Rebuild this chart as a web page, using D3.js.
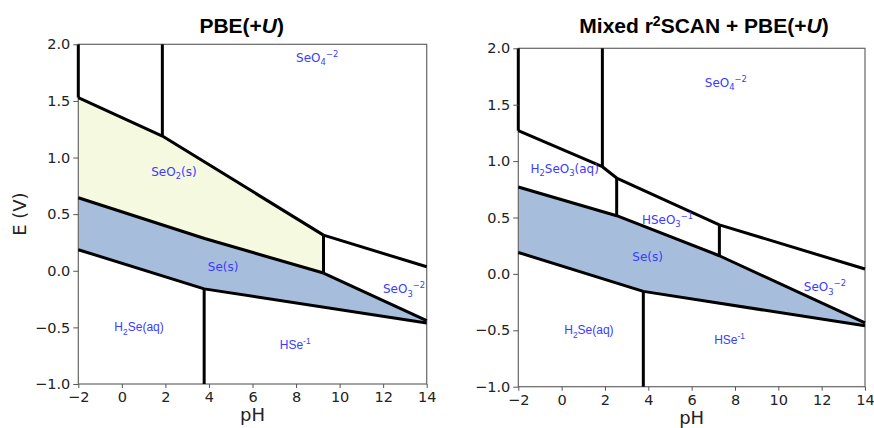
<!DOCTYPE html>
<html>
<head>
<meta charset="utf-8">
<script src="https://cdn.jsdelivr.net/npm/d3@7"></script>
<style>
body { margin: 0; background: #fff; }
svg text { font-family: "DejaVu Sans", sans-serif; }
.tick text { font-size: 14.5px; fill: #222; }
.tick line { stroke: #555; }
.frame { fill: none; stroke: #666; stroke-width: 1.2; }
.bound { fill: none; stroke: #000; stroke-width: 3; stroke-linejoin: round; }
.arial { font-family: "Liberation Sans", Arial, sans-serif !important; }
.title { font-family: "Liberation Sans", Arial, sans-serif !important; font-weight: bold; font-size: 21px; }
</style>
</head>
<body>
<svg width="874" height="428"></svg>
<script>
var phTicks = [-2, 0, 2, 4, 6, 8, 10, 12, 14];
var eTicks = [-1.0, -0.5, 0.0, 0.5, 1.0, 1.5, 2.0];

// PBE(+U) boundaries as [pH, E]
var pbeSeO2Top = [[-2, 1.53], [1.86, 1.19], [9.26, 0.315]];
var pbeSeO2Bottom = [[-2, 0.645], [3.8, 0.285], [9.26, -0.02]];
var pbeSeTopRight = [[9.26, -0.02], [14, -0.44]];
var pbeSeBottom = [[-2, 0.186], [3.78, -0.16], [14, -0.462]];
var pbeSeO3Top = [[9.26, 0.315], [14, 0.035]];
// verticals: [pH, Etop, Ebottom]
var pbeVerticals = [[-2, 2.0, 1.53], [1.86, 2.0, 1.19], [9.26, 0.315, -0.02], [3.78, -0.16, -1.0]];
var pbeLabels = [
    { parts: [['SeO', ''], ['4', 'sub'], ['\u22122', 'sup']], ph: 8.97, e: 1.883 },
    { parts: [['SeO', ''], ['2', 'sub'], ['(s)', '']], ph: 2.39, e: 0.875 },
    { parts: [['Se(s)', '']], ph: 4.65, e: 0.034 },
    { parts: [['SeO', ''], ['3', 'sub'], ['\u22122', 'sup']], ph: 12.96, e: -0.162 },
    { parts: [['H', ''], ['2', 'sub'], ['Se(aq)', '']], ph: 0.79, e: -0.496, arial: true },
    { parts: [['HSe', ''], ['-1', 'sup']], ph: 7.96, e: -0.655, arial: true }
];

// Mixed r2SCAN + PBE(+U) boundaries
var mixTop = [[-2, 1.27], [1.88, 0.95], [2.54, 0.85], [7.28, 0.435], [14, 0.043]];
var mixSeTop = [[-2, 0.77], [2.54, 0.516], [7.28, 0.161], [14, -0.435]];
var mixSeBottom = [[-2, 0.19], [3.77, -0.155], [14, -0.46]];
var mixVerticals = [[-2, 2.0, 1.27], [1.88, 2.0, 0.95], [2.54, 0.85, 0.516], [7.28, 0.435, 0.161], [3.77, -0.155, -1.0]];
var mixLabels = [
    { parts: [['SeO', ''], ['4', 'sub'], ['\u22122', 'sup']], ph: 7.58, e: 1.697 },
    { parts: [['H', ''], ['2', 'sub'], ['SeO', ''], ['3', 'sub'], ['(aq)', '']], ph: 0.14, e: 0.936 },
    { parts: [['HSeO', ''], ['3', 'sub'], ['\u22121', 'sup']], ph: 4.885, e: 0.482 },
    { parts: [['Se(s)', '']], ph: 3.97, e: 0.152 },
    { parts: [['SeO', ''], ['3', 'sub'], ['\u22122', 'sup']], ph: 12.15, e: -0.116 },
    { parts: [['H', ''], ['2', 'sub'], ['Se(aq)', '']], ph: 1.26, e: -0.497, arial: true },
    { parts: [['HSe', ''], ['-1', 'sup']], ph: 7.75, e: -0.586, arial: true }
];

var yellowFill = '#f5f9e0';
var seFill = '#a6bddb';
var labelBlue = '#3b3bff';

var svg = d3.select('svg');

var panels = [
    {
        left: 78.3, right: 426.7, top: 44.3, bottom: 384,
        title: 'pbe', titleX: 241.7, yLabel: true,
        fills: [
            { pts: pbeSeO2Top.concat(pbeSeO2Bottom.slice().reverse()), color: yellowFill },
            { pts: pbeSeO2Bottom.concat(pbeSeTopRight.slice(1), pbeSeBottom.slice().reverse()), color: seFill }
        ],
        lines: [pbeSeO2Top, pbeSeO2Bottom, pbeSeTopRight, pbeSeBottom, pbeSeO3Top],
        verticals: pbeVerticals,
        labels: pbeLabels
    },
    {
        left: 518.3, right: 865, top: 48.3, bottom: 386.7,
        title: 'mix', titleX: 704, yLabel: false,
        fills: [
            { pts: mixSeTop.concat(mixSeBottom.slice().reverse()), color: seFill }
        ],
        lines: [mixTop, mixSeTop, mixSeBottom],
        verticals: mixVerticals,
        labels: mixLabels
    }
];

panels.forEach(function(p) {
    var x = d3.scaleLinear().domain([-2, 14]).range([p.left, p.right]);
    var y = d3.scaleLinear().domain([-1, 2]).range([p.bottom, p.top]);
    var g = svg.append('g');

    var line = d3.line().x(function(d) { return x(d[0]); }).y(function(d) { return y(d[1]); });

    // region fills
    p.fills.forEach(function(f) {
        g.append('path').attr('d', line(f.pts) + 'Z').attr('fill', f.color);
    });

    // frame
    g.append('rect').attr('class', 'frame')
        .attr('x', p.left).attr('y', p.top)
        .attr('width', p.right - p.left).attr('height', p.bottom - p.top);

    // boundaries
    p.lines.forEach(function(l) {
        g.append('path').attr('class', 'bound').attr('d', line(l));
    });
    p.verticals.forEach(function(v) {
        g.append('line').attr('class', 'bound')
            .attr('x1', x(v[0])).attr('x2', x(v[0]))
            .attr('y1', y(v[1])).attr('y2', y(v[2]))
            .style('stroke-linecap', 'butt');
    });

    // axes
    var xAxis = d3.axisBottom(x).tickValues(phTicks).tickSize(4).tickSizeOuter(0).tickPadding(4)
        .tickFormat(function(d) { return d < 0 ? '\u2212' + Math.abs(d) : d; });
    g.append('g').attr('class', 'x axis')
        .attr('transform', 'translate(0,' + p.bottom + ')')
        .call(xAxis)
        .call(function(s) { s.select('.domain').remove(); })
        .call(function(s) { s.selectAll('.tick text').attr('dy', '0.71em'); });

    var yAxis = d3.axisLeft(y).tickValues(eTicks).tickSize(5).tickSizeOuter(0).tickPadding(3)
        .tickFormat(function(d) { var s = d3.format('.1f')(Math.abs(d)); return d < 0 ? '\u2212' + s : s; });
    g.append('g').attr('class', 'y axis')
        .attr('transform', 'translate(' + p.left + ',0)')
        .call(yAxis)
        .call(function(s) { s.select('.domain').remove(); });

    // axis titles
    g.append('text').attr('x', (p.left + p.right) / 2).attr('y', p.bottom + 37)
        .attr('text-anchor', 'middle').style('font-size', '18px').attr('fill', '#222').text('pH');
    if (p.yLabel) {
        g.append('text').attr('transform', 'translate(26,' + (p.top + p.bottom) / 2 + ') rotate(-90)')
            .attr('text-anchor', 'middle').style('font-size', '18px').attr('fill', '#222').text('E (V)');
    }

    // region labels
    p.labels.forEach(function(lab) {
        var fs = 12;
        var t = g.append('text')
            .attr('x', x(lab.ph)).attr('y', y(lab.e) + fs * 0.35)
            .attr('text-anchor', 'middle').attr('fill', labelBlue)
            .style('font-size', fs + 'px');
        if (lab.arial) t.attr('class', 'arial');
        var shift = 0;
        lab.parts.forEach(function(part) {
            var target = part[1] === 'sub' ? 3.5 : (part[1] === 'sup' ? -5 : 0);
            var ts = t.append('tspan').text(part[0]);
            if (target !== shift) ts.attr('dy', (target - shift) + 'px');
            if (part[1] !== '') ts.style('font-size', (fs * 0.7) + 'px');
            shift = target;
        });
    });

    // title
    var tt = svg.append('text').attr('class', 'title')
        .attr('x', p.titleX).attr('y', 33).attr('text-anchor', 'middle').attr('fill', '#000');
    if (p.title === 'pbe') {
        tt.append('tspan').text('PBE(+');
    } else {
        tt.append('tspan').text('Mixed r');
        tt.append('tspan').text('2').attr('dy', '-7px').style('font-size', '14px');
        tt.append('tspan').text('SCAN + PBE(+').attr('dy', '7px');
    }
    tt.append('tspan').text('U').style('font-style', 'italic');
    tt.append('tspan').text(')');
});
</script>
</body>
</html>
